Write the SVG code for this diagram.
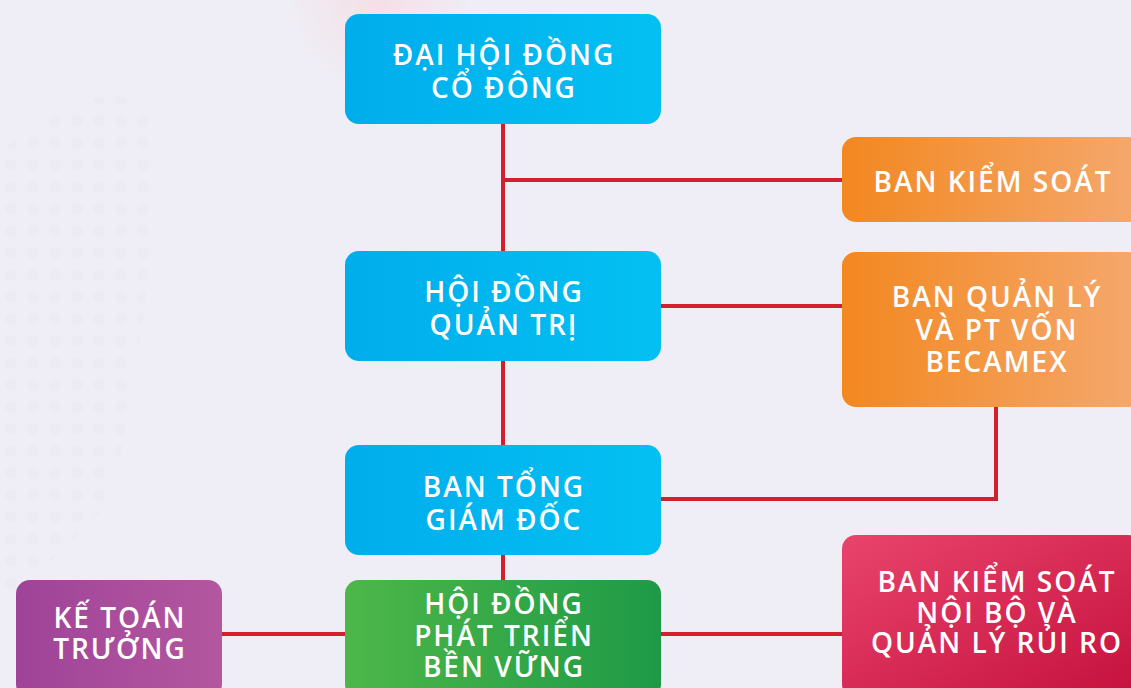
<svg xmlns="http://www.w3.org/2000/svg" width="1131" height="688" viewBox="0 0 1131 688">
<defs>
<style>
.t{font-family:"Open Sans","Liberation Sans",sans-serif;font-weight:600;font-size:28px;letter-spacing:2px;fill:#ffffff;text-anchor:middle}
.c{stroke:#d11f2e;stroke-width:4;fill:none}
</style>
<linearGradient id="gBlue" x1="0" y1="0" x2="1" y2="0"><stop offset="0" stop-color="#00adec"/><stop offset="1" stop-color="#04c0f2"/></linearGradient>
<linearGradient id="gOrange" x1="0" y1="0" x2="1" y2="0"><stop offset="0" stop-color="#f28820"/><stop offset="1" stop-color="#f5a86e"/></linearGradient>
<linearGradient id="gRed" x1="0" y1="0" x2="1" y2="1"><stop offset="0" stop-color="#e9446c"/><stop offset="1" stop-color="#c4103c"/></linearGradient>
<linearGradient id="gGreen" x1="0" y1="0" x2="1" y2="0"><stop offset="0" stop-color="#4db749"/><stop offset="1" stop-color="#1e9a47"/></linearGradient>
<linearGradient id="gPurple" x1="0" y1="0" x2="1" y2="0"><stop offset="0" stop-color="#9f4399"/><stop offset="1" stop-color="#b4579f"/></linearGradient>
<radialGradient id="gPink" cx="0.5" cy="0.5" r="0.5"><stop offset="0" stop-color="#f6dfe6"/><stop offset="1" stop-color="#f6dfe6" stop-opacity="0"/></radialGradient>
<pattern id="dots" width="22" height="22" patternUnits="userSpaceOnUse"><circle cx="11" cy="11" r="6" fill="#e6e4ef"/></pattern>
</defs>
<rect width="1131" height="688" fill="#efedf5"/>
<circle cx="380" cy="0" r="90" fill="url(#gPink)"/>
<path d="M0 150 Q120 60 150 120 Q160 300 110 500 Q60 560 0 600 Z" fill="url(#dots)" opacity="0.3"/>
<g id="connectors">
<path class="c" d="M503 124 V251"/>
<path class="c" d="M503 180 H842"/>
<path class="c" d="M503 361 V445"/>
<path class="c" d="M661 306 H842"/>
<path class="c" d="M996 407 V499 H661"/>
<path class="c" d="M503 555 V580"/>
<path class="c" d="M222 634 H345"/>
<path class="c" d="M661 634 H842"/>
</g>
<g id="dai-hoi-dong-co-dong">
<rect x="345" y="14" width="316" height="110" rx="14" fill="url(#gBlue)"/>
<text class="t" x="504" y="65">ĐẠI HỘI ĐỒNG</text>
<text class="t" x="504" y="98">CỔ ĐÔNG</text>
</g>
<g id="ban-kiem-soat">
<rect x="842" y="137" width="300" height="85" rx="14" fill="url(#gOrange)"/>
<text class="t" x="993" y="192">BAN KIỂM SOÁT</text>
</g>
<g id="hoi-dong-quan-tri">
<rect x="345" y="251" width="316" height="110" rx="14" fill="url(#gBlue)"/>
<text class="t" x="504" y="302">HỘI ĐỒNG</text>
<text class="t" x="504" y="335">QUẢN TRỊ</text>
</g>
<g id="ban-quan-ly-von">
<rect x="842" y="252" width="300" height="155" rx="14" fill="url(#gOrange)"/>
<text class="t" x="997" y="307">BAN QUẢN LÝ</text>
<text class="t" x="997" y="340">VÀ PT VỐN</text>
<text class="t" x="997" y="372">BECAMEX</text>
</g>
<g id="ban-tong-giam-doc">
<rect x="345" y="445" width="316" height="110" rx="14" fill="url(#gBlue)"/>
<text class="t" x="504" y="497">BAN TỔNG</text>
<text class="t" x="504" y="530">GIÁM ĐỐC</text>
</g>
<g id="ke-toan-truong">
<rect x="16" y="580" width="206" height="118" rx="14" fill="url(#gPurple)"/>
<text class="t" x="120" y="628">KẾ TOÁN</text>
<text class="t" x="120" y="659">TRƯỞNG</text>
</g>
<g id="hoi-dong-phat-trien-ben-vung">
<rect x="345" y="580" width="316" height="118" rx="14" fill="url(#gGreen)"/>
<text class="t" x="504" y="614">HỘI ĐỒNG</text>
<text class="t" x="504" y="646">PHÁT TRIỂN</text>
<text class="t" x="504" y="677">BỀN VỮNG</text>
</g>
<g id="ban-kiem-soat-noi-bo">
<rect x="842" y="535" width="300" height="163" rx="14" fill="url(#gRed)"/>
<text class="t" x="997" y="592">BAN KIỂM SOÁT</text>
<text class="t" x="997" y="623">NỘI BỘ VÀ</text>
<text class="t" x="997" y="653">QUẢN LÝ RỦI RO</text>
</g>
</svg>
